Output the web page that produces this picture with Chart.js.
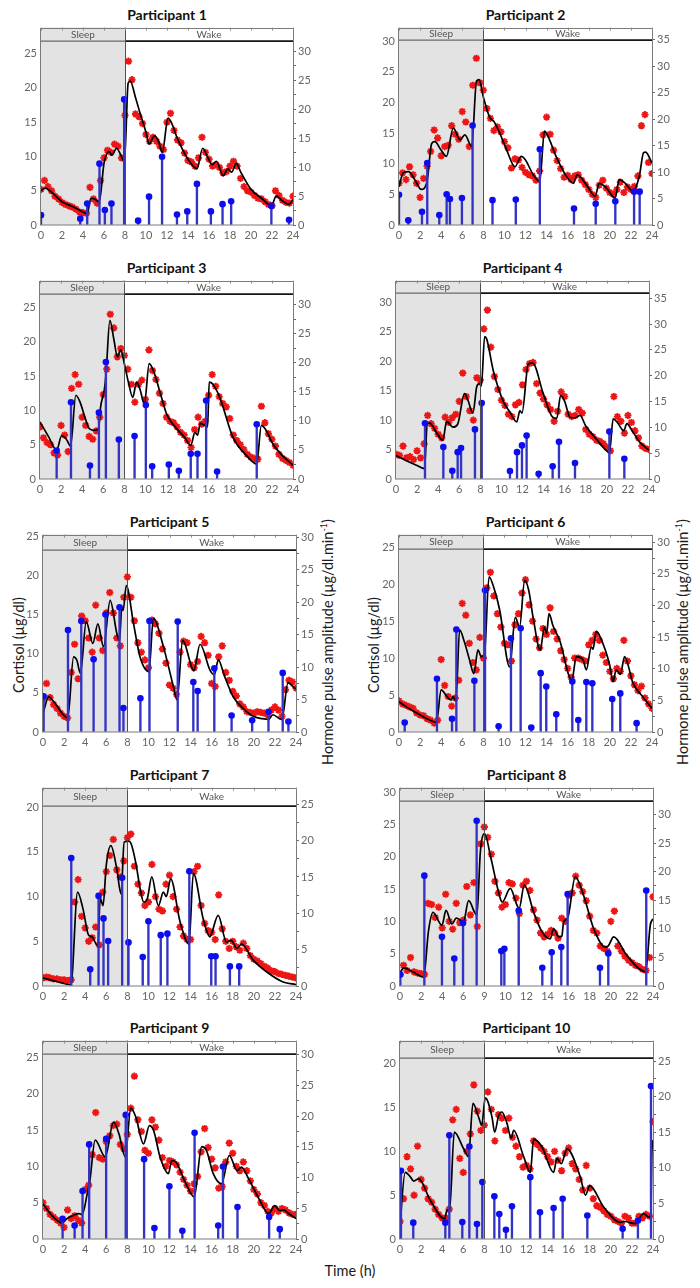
<!DOCTYPE html>
<html><head><meta charset="utf-8">
<script src="https://cdn.jsdelivr.net/npm/chart.js@4.4.1/dist/chart.umd.min.js"></script>
<style>
body{margin:0;width:700px;height:1288px;background:#fff;position:relative;overflow:hidden;font-family:Lato,"Open Sans","DejaVu Sans",sans-serif;color:#1a1a1a}
.ptitle{position:absolute;width:240px;text-align:center;font-weight:bold;font-size:14px;line-height:16px;color:#111}
.vlabel{position:absolute;width:320px;height:20px;line-height:20px;text-align:center;font-size:14.5px;transform:rotate(-90deg);white-space:nowrap}
.vlabel sup{font-size:9px;line-height:0}
.hlabel{position:absolute;width:200px;text-align:center;font-size:14.5px;line-height:18px}
canvas{position:absolute}
</style></head>
<body>
<div class="vlabel" style="left:-141px;top:635px">Cortisol (µg/dl)</div>
<div class="vlabel" style="left:214px;top:635px">Cortisol (µg/dl)</div>
<div class="vlabel" style="left:168px;top:632px">Hormone pulse amplitude (µg/dl.min<sup>-1</sup>)</div>
<div class="vlabel" style="left:523px;top:632px">Hormone pulse amplitude (µg/dl.min<sup>-1</sup>)</div>
<div class="hlabel" style="left:250px;top:1262px">Time (h)</div>
<script>
// ---------- data ----------
const SAMPLE_STEP_H = 1 / 3;          // cortisol sampled every 20 min, from 0 h to 24 h
const SLEEP_START = 0, SLEEP_END = 8;
const X_TICK_VALUES = [0,2,4,6,8,10,12,14,16,18,20,22,24];
const X_TICK_LABELS = ['0','2','4','6','8','10','12','14','16','18','20','22','24'];
const X_TICK_LABELS_P8 = ['0','2','4','6','9','10','12','14','16','18','20','22','24'];

const P1_CORT = [5.2,6.5,5.6,5.0,4.2,3.8,3.3,3.0,2.8,2.6,2.3,1.9,1.8,1.7,5.5,3.8,3.2,6.5,9.8,10.9,10.6,11.8,11.5,9.8,16.0,23.9,21.2,16.2,15.8,14.8,13.2,12.2,12.8,12.2,11.5,11.0,15.0,16.3,13.8,12.4,12.0,10.5,9.4,9.2,8.6,9.8,12.8,10.6,9.6,8.6,8.8,8.4,7.6,7.8,8.6,9.3,8.6,6.8,5.6,5.0,4.8,4.3,3.9,3.8,3.4,3.0,2.8,5.0,4.3,3.6,3.3,3.2,4.2];
const P1_FIT = [[0,5.0],[0.4,5.4],[1,4.8],[2,3.4],[3,2.7],[4,1.9],[4.4,1.6],[4.75,3.9],[5.1,3.8],[5.55,3.4],[6.0,9.0],[6.5,10.7],[6.75,10.2],[7.2,11.2],[7.6,10.2],[7.95,9.2],[8.3,20.7],[8.5,21.0],[9.0,18.6],[9.4,16.5],[10.0,13.5],[10.3,11.8],[10.8,13.0],[11.2,12.2],[11.55,10.6],[12.1,15.6],[12.4,15.0],[13.0,12.6],[14.0,9.6],[14.85,8.2],[15.4,11.2],[15.9,9.8],[16.3,8.8],[16.7,9.3],[17.35,7.2],[17.8,8.2],[18.15,7.7],[18.6,9.0],[19.0,7.8],[20.0,5.2],[21.0,3.9],[21.95,2.8],[22.4,4.2],[23.0,3.5],[23.6,3.0],[24,3.7]];
const P1_PULSES = [[0,1.7],[3.74,1.1],[4.4,3.7],[5.57,10.6],[6.08,2.6],[6.71,3.7],[7.92,21.7],[9.25,0.75],[10.29,4.9],[11.53,11.8],[12.95,1.8],[13.93,2.35],[14.85,7.1],[16.18,2.35],[17.29,3.6],[18.11,4.1],[21.94,3.3],[23.62,0.9]];

const P2_CORT = [6.8,8.5,7.4,9.5,8.2,6.8,4.5,7.6,9.6,12.0,15.5,14.2,11.3,12.8,13.0,16.2,14.8,14.0,18.5,16.8,12.8,22.8,27.2,23.2,22.0,19.0,17.4,15.4,16.0,15.2,13.6,12.6,9.3,10.8,10.6,9.4,8.6,8.2,8.0,7.3,8.8,14.7,17.6,14.8,12.2,10.5,9.2,7.8,8.1,7.4,8.0,8.2,7.3,6.6,5.8,5.0,4.5,6.5,7.3,6.0,5.3,5.0,5.8,7.0,5.3,6.2,5.8,6.3,8.0,16.2,18.0,10.2,8.4];
const P2_FIT = [[0,6.3],[0.4,8.5],[0.9,8.7],[1.5,7.4],[2.1,5.8],[2.65,7.0],[3.1,13.3],[3.4,13.6],[4.0,12.2],[4.5,11.2],[5.15,15.8],[5.8,13.9],[6.25,14.7],[6.9,12.8],[7.35,23.5],[7.6,23.7],[8.0,20.9],[8.6,17.6],[9.0,16.9],[9.6,14.8],[10.2,12.3],[11.0,9.5],[11.6,11.2],[12.0,10.6],[12.7,8.3],[13.35,7.1],[13.8,15.3],[14.2,14.2],[14.9,11.2],[15.9,7.9],[16.55,6.8],[16.9,8.2],[17.8,6.5],[18.6,4.7],[19.0,6.8],[19.6,6.2],[20.5,4.4],[20.9,7.4],[21.4,6.9],[22.2,5.5],[22.8,8.0],[23.2,11.8],[23.4,11.9],[24,10.1]];
const P2_PULSES = [[0,5.7],[0.88,0.9],[2.18,2.5],[2.68,11.7],[3.82,1.9],[4.52,5.8],[4.83,4.9],[5.97,5.1],[6.98,18.8],[8.87,4.7],[11.08,4.8],[13.36,14.3],[16.6,3.1],[18.66,4.0],[20.52,4.5],[22.3,6.3],[22.83,6.3]];

const P3_CORT = [7.6,6.0,5.3,5.0,3.8,3.5,7.8,6.4,4.0,13.2,15.2,13.8,9.0,7.8,6.2,5.8,7.0,9.0,12.3,16.0,24.0,22.0,17.8,19.0,18.0,16.0,13.8,11.2,13.8,14.4,11.6,18.8,15.8,14.5,12.5,11.0,9.0,8.4,8.2,7.6,6.8,6.4,5.6,4.6,7.2,9.0,8.0,8.4,12.2,15.2,13.5,12.0,11.0,10.5,8.8,6.4,5.6,5.0,4.3,3.6,3.2,3.0,2.9,10.6,8.2,6.6,5.8,4.8,3.6,3.0,2.7,2.4,2.0];
const P3_FIT = [[0,8.3],[0.8,6.2],[1.58,4.2],[2.05,6.3],[2.5,5.8],[2.9,4.8],[3.4,12.2],[3.8,11.2],[4.3,8.8],[4.7,7.3],[5.2,7.1],[5.55,7.3],[5.75,10.5],[6.1,13.0],[6.25,15.0],[6.63,23.1],[7.0,20.4],[7.35,17.8],[7.65,18.8],[8.0,16.8],[8.4,14.0],[8.8,11.9],[9.16,14.1],[9.5,13.0],[9.9,10.9],[10.36,16.8],[10.8,15.6],[11.5,12.0],[12.0,9.5],[12.6,8.0],[13.7,6.1],[14.3,4.9],[14.7,6.8],[14.95,6.4],[15.2,8.1],[15.65,7.8],[15.9,7.6],[16.05,14.1],[16.4,13.8],[17.05,11.9],[18.3,6.1],[19.6,3.4],[20.55,2.2],[21.0,7.8],[21.4,7.2],[22.1,5.1],[23.0,3.4],[24,2.0]];
const P3_PULSES = [[1.58,4.9],[2.94,13.2],[4.74,2.3],[5.59,11.4],[6.25,20.1],[7.48,6.8],[8.97,7.4],[10.04,12.7],[10.64,2.2],[12.22,2.5],[13.17,1.4],[14.3,4.35],[14.94,4.35],[15.76,13.5],[16.8,1.3],[20.56,9.4]];

const P4_CORT = [4.2,4.0,5.6,3.6,3.8,3.3,4.8,3.6,6.0,10.8,9.4,8.6,7.6,7.0,10.5,9.6,10.4,11.0,13.2,18.0,14.0,11.6,10.0,17.2,16.8,25.5,28.7,22.4,17.4,15.2,13.4,12.5,11.0,10.6,12.6,13.0,16.0,18.6,19.6,19.8,16.2,14.6,13.6,12.6,11.8,9.8,11.5,14.8,14.0,11.0,10.6,10.8,11.8,11.2,8.4,7.6,7.2,6.6,6.4,6.0,5.4,4.8,14.0,10.6,9.8,7.8,10.8,9.6,8.2,7.0,5.6,5.2,5.0];
const P4_FIT = [[0,4.0],[1.0,3.1],[2.0,2.3],[2.7,1.75],[2.97,9.4],[3.2,9.5],[3.8,8.0],[4.45,6.6],[4.8,9.8],[5.4,8.8],[5.85,9.3],[6.5,14.5],[6.8,13.5],[7.3,11.2],[7.65,15.6],[7.9,16.2],[8.1,15.8],[8.41,24.2],[8.6,23.8],[9.23,18.4],[10.2,13.1],[10.8,11.4],[11.45,9.7],[11.76,11.6],[11.95,11.2],[12.55,19.5],[12.96,19.7],[13.97,14.5],[14.86,10.5],[15.25,10.3],[15.62,14.2],[16.0,13.2],[16.5,10.5],[17.0,10.4],[17.45,10.8],[18.0,9.0],[19.0,6.8],[20.1,4.6],[20.25,4.5],[20.6,10.2],[21.0,9.6],[21.6,8.2],[21.9,9.4],[22.4,8.2],[23.1,6.3],[24,4.9]];
const P4_PULSES = [[2.75,10.8],[4.49,6.2],[5.34,1.6],[5.85,5.2],[6.17,6.0],[7.49,9.6],[8.13,14.7],[10.81,1.55],[11.48,5.2],[11.95,6.5],[12.39,8.4],[13.53,1.0],[14.86,2.45],[15.46,7.2],[16.98,3.1],[20.24,9.2],[21.66,3.9]];

const P5_CORT = [4.2,6.2,4.4,3.5,3.0,2.4,2.0,1.8,7.6,11.2,6.8,14.8,14.2,12.0,10.2,16.2,12.0,10.4,15.2,17.8,15.2,12.0,11.0,17.2,19.8,17.2,14.2,11.4,10.2,9.2,8.2,14.3,13.8,12.6,10.6,8.8,6.0,5.6,4.8,10.2,11.6,11.4,8.6,8.2,9.0,12.2,11.4,9.8,6.2,5.8,9.6,11.0,7.6,6.6,5.2,4.6,3.6,3.2,2.6,2.5,2.4,2.6,2.5,2.4,2.2,2.8,3.2,2.8,2.0,5.4,6.6,6.4,5.6];
const P5_FIT = [[0,2.4],[0.05,2.6],[0.54,4.5],[1.0,3.9],[2.35,1.8],[2.9,9.6],[3.2,9.2],[3.55,7.5],[4.1,14.1],[4.73,11.3],[5.2,13.8],[5.74,10.9],[6.37,16.8],[7.0,12.6],[7.25,11.6],[7.48,16.0],[7.6,15.5],[7.9,18.7],[8.58,13.9],[9.2,9.6],[10.05,7.7],[10.47,14.5],[11.42,10.9],[12.37,5.8],[12.72,4.1],[13.25,11.7],[14.1,8.3],[14.3,7.8],[14.9,11.2],[15.84,7.9],[16.25,7.3],[16.63,9.2],[17.2,7.2],[18.04,4.5],[19.0,3.0],[19.94,2.0],[20.8,1.7],[21.4,1.6],[21.8,2.2],[22.65,1.6],[23.25,6.3],[23.7,5.8],[24,5.5]];
const P5_PULSES = [[0.06,5.5],[2.37,15.7],[3.63,17.1],[4.8,11.2],[5.93,18.1],[7.26,19.2],[7.63,3.7],[9.24,5.2],[10.1,17.1],[12.78,17.0],[14.26,7.7],[14.67,6.3],[16.25,9.8],[17.89,2.55],[19.84,1.8],[21.39,3.1],[22.74,9.1],[23.28,1.6]];

const P6_CORT = [4.2,3.8,3.6,3.4,3.2,2.6,2.3,2.2,1.8,1.6,1.2,1.6,9.8,6.3,4.8,3.5,4.6,7.0,17.4,15.8,12.0,9.4,8.4,12.8,10.0,19.5,21.6,18.4,16.0,14.2,12.0,11.8,9.6,14.5,16.0,18.8,20.6,17.2,15.0,12.6,11.4,14.0,13.2,16.8,13.6,12.6,11.0,9.8,8.6,7.4,10.0,10.0,9.8,9.6,11.8,12.4,13.2,12.4,10.4,9.4,8.2,7.2,8.6,8.2,12.4,9.6,7.6,6.4,5.6,6.2,4.6,3.8,3.2];
const P6_FIT = [[0,4.1],[0.6,3.5],[1.64,2.6],[2.5,1.9],[3.55,1.3],[4.0,5.7],[4.5,4.9],[4.95,4.3],[5.12,4.8],[5.4,4.2],[5.75,13.8],[6.2,12.2],[6.7,9.7],[7.1,7.9],[7.49,11.1],[7.8,10.2],[8.1,10.4],[8.54,21.0],[9.0,19.5],[9.55,16.5],[10.5,8.8],[11.03,15.5],[11.44,14.2],[11.92,20.5],[12.3,19.2],[12.71,15.6],[13.4,11.1],[13.8,14.2],[14.0,13.3],[14.23,16.0],[14.6,14.4],[15.24,12.4],[16.4,7.0],[16.82,10.2],[17.45,9.8],[17.77,8.4],[18.24,11.5],[18.4,11.2],[18.72,13.6],[19.1,12.8],[19.98,9.1],[20.3,6.8],[20.6,8.4],[21.0,7.8],[21.4,10.2],[22.2,6.6],[23.1,4.8],[24,3.2]];
const P6_PULSES = [[0.54,1.5],[3.6,8.4],[5.03,2.1],[5.44,16.2],[7.15,8.1],[8.16,22.4],[9.45,0.9],[10.62,14.8],[11.54,16.4],[12.55,0.7],[13.44,9.3],[13.97,7.2],[14.92,2.8],[16.44,8.0],[17.01,1.9],[17.77,7.9],[18.34,7.7],[20.23,5.2],[20.99,6.1],[22.54,1.4]];

const P7_CORT = [0.9,1.0,0.9,0.8,0.8,0.7,0.7,0.6,0.7,9.4,11.9,7.8,6.5,5.0,5.4,6.6,4.6,10.5,12.8,14.6,16.4,13.0,12.2,14.0,16.6,17.0,13.4,11.4,10.4,9.0,9.4,13.6,10.0,8.6,8.4,11.4,12.4,10.0,8.6,6.6,5.6,5.2,5.2,12.8,13.4,9.0,7.0,6.2,6.0,5.2,10.2,6.4,5.0,4.2,5.0,4.4,4.0,4.8,4.2,3.4,3.0,2.8,2.5,2.2,2.0,1.7,1.6,1.4,1.3,1.2,1.1,1.0,0.9];
const P7_FIT = [[0,0.9],[1.3,0.5],[2.65,0.15],[3.28,10.5],[3.8,8.6],[4.32,5.7],[4.64,5.5],[5.2,4.5],[5.43,9.8],[5.7,9.0],[6.0,13.5],[6.44,15.7],[7.0,13.1],[7.4,10.3],[7.7,16.1],[8.1,16.2],[8.33,16.0],[8.8,13.8],[9.21,10.9],[9.55,9.4],[9.9,9.8],[10.32,12.2],[10.95,9.0],[11.42,10.5],[11.7,10.0],[12.11,12.0],[13.0,7.2],[13.85,4.7],[14.26,12.6],[15.2,7.5],[15.84,5.5],[16.0,5.9],[16.62,7.9],[17.41,4.9],[17.85,5.1],[18.4,4.2],[18.83,4.7],[19.94,2.9],[21.2,1.6],[22.78,0.45],[24,0.15]];
const P7_PULSES = [[2.68,17.6],[4.48,2.3],[5.27,12.4],[5.74,9.3],[6.18,6.2],[7.51,14.9],[8.11,6.0],[9.46,4.0],[10.0,8.9],[11.17,7.0],[11.8,7.2],[13.88,15.8],[15.96,4.1],[16.37,4.1],[17.73,2.7],[18.61,2.7]];

const P8_CORT = [1.8,3.2,2.4,4.4,2.2,2.0,1.9,1.8,12.8,12.6,10.6,12.2,9.0,14.2,10.0,8.8,12.8,9.8,10.2,15.4,11.0,16.0,9.2,22.0,24.6,23.0,20.4,16.2,14.4,12.2,12.6,16.0,15.8,13.6,11.2,15.6,16.2,14.8,11.8,10.2,8.2,7.6,8.0,8.6,8.2,7.4,10.5,10.0,14.0,14.4,17.0,15.6,14.6,13.2,10.8,8.6,8.2,6.2,5.8,5.4,10.0,11.6,6.2,5.4,4.6,4.0,3.6,3.2,3.0,2.6,2.4,4.4,13.8];
const P8_FIT = [[0,2.0],[0.35,2.8],[1.2,2.2],[2.25,1.4],[2.7,8.5],[3.13,11.4],[3.98,9.4],[4.36,11.7],[4.93,9.6],[5.34,10.5],[5.72,10.2],[6.0,9.8],[6.51,13.2],[7.14,11.2],[7.3,11.0],[7.62,20.7],[8.03,23.6],[8.57,20.2],[9.52,13.5],[9.7,13.0],[10.46,15.1],[11.1,12.5],[11.3,12.0],[11.79,15.6],[12.68,11.4],[13.47,8.4],[14.26,7.3],[14.57,8.9],[15.05,7.6],[15.35,7.7],[15.52,9.9],[15.9,10.5],[16.63,16.9],[17.42,14.0],[18.37,8.9],[19.48,6.0],[19.76,6.2],[20.27,7.6],[21.53,4.7],[23.3,2.2],[23.74,9.4],[24,10.4]];
const P8_PULSES = [[0.03,2.0],[2.31,19.3],[3.98,8.6],[5.15,4.8],[5.98,11.0],[7.27,28.9],[9.61,6.1],[9.9,6.5],[11.26,13.2],[13.5,3.2],[14.39,5.9],[15.3,6.8],[15.9,16.1],[18.97,3.2],[19.76,5.7],[23.36,16.7]];

const P9_CORT = [5.0,4.2,3.4,3.0,2.6,2.2,1.6,4.0,2.8,3.2,2.6,2.2,6.8,7.4,11.6,17.4,11.2,11.0,13.4,14.2,15.6,15.8,13.0,12.4,14.4,18.0,22.4,16.4,14.8,12.2,11.8,16.4,15.4,13.6,11.2,10.0,10.8,10.6,10.2,9.2,8.2,7.4,6.6,7.6,8.6,12.0,15.2,12.6,11.0,9.8,7.0,7.2,10.6,13.2,11.8,10.0,9.4,10.6,9.4,8.0,6.8,6.2,5.0,4.6,3.8,3.6,4.2,3.8,4.2,4.0,3.6,3.4,3.4];
const P9_FIT = [[0,4.8],[1.0,3.0],[1.8,2.2],[2.27,2.8],[2.9,3.25],[3.38,3.5],[3.7,3.35],[4.32,7.1],[4.4,7.5],[4.95,13.6],[5.9,11.3],[6.69,16.1],[7.2,14.5],[7.8,11.3],[8.33,18.0],[8.8,16.8],[9.53,13.1],[10.1,15.6],[10.5,14.9],[11.1,11.3],[11.9,9.0],[12.21,10.8],[12.6,10.6],[13.5,7.8],[14.35,5.8],[15.05,12.7],[15.5,12.2],[16.15,9.0],[16.94,7.6],[17.67,11.5],[18.42,9.4],[18.83,9.9],[19.5,8.3],[20.57,5.3],[21.4,3.5],[21.99,4.6],[22.46,3.9],[22.8,4.0],[23.4,3.4],[24,2.8]];
const P9_PULSES = [[1.86,3.3],[3.0,2.2],[3.75,7.8],[4.38,15.4],[5.99,16.3],[7.85,20.2],[9.59,13.0],[10.57,1.8],[11.99,8.6],[13.22,1.35],[14.38,17.3],[16.62,2.2],[17.07,11.8],[18.45,5.2],[21.45,3.6],[22.46,1.6]];

const P10_CORT = [2.0,4.6,9.4,8.0,5.0,10.6,6.8,5.8,4.6,4.2,3.4,2.8,2.4,2.4,3.4,13.6,14.8,9.2,7.6,10.0,12.0,17.6,14.6,12.4,13.0,16.8,14.8,11.2,14.2,13.8,12.4,13.8,11.6,10.6,9.4,8.2,8.4,8.0,11.2,10.8,10.4,10.0,9.4,8.8,10.0,9.0,7.8,9.8,10.4,8.6,8.0,6.8,5.6,8.4,5.8,4.6,3.8,3.6,3.2,2.8,2.6,2.2,2.0,1.8,2.6,2.4,1.8,1.8,2.6,2.4,2.8,2.6,13.4];
const P10_FIT = [[0,0.6],[0.1,3.0],[0.5,7.6],[0.98,7.1],[1.3,6.6],[1.77,6.9],[2.88,4.4],[4.24,2.3],[4.46,3.3],[4.7,3.2],[5.15,12.2],[6.04,10.3],[6.5,9.4],[6.92,15.5],[7.46,13.9],[7.75,13.0],[8.09,16.1],[8.73,13.9],[8.98,12.2],[9.36,14.1],[9.67,14.5],[10.15,13.2],[10.55,11.5],[10.78,12.4],[11.73,9.4],[12.36,7.6],[12.68,11.4],[13.47,10.5],[14.57,7.6],[14.89,9.2],[15.3,8.6],[15.84,10.3],[17.1,7.1],[17.6,5.0],[17.99,6.1],[19.32,3.65],[20.9,1.9],[21.3,2.0],[22.32,1.75],[22.6,2.2],[23.11,2.9],[23.6,2.5],[23.8,2.8],[23.9,10.1],[24,11.3]];
const P10_PULSES = [[0.09,9.6],[1.26,2.3],[4.3,2.3],[4.68,14.6],[5.91,2.4],[6.58,13.0],[7.3,2.1],[7.81,8.0],[8.95,6.0],[9.42,3.5],[10.05,1.3],[10.62,4.6],[12.36,8.7],[13.28,3.75],[14.57,4.35],[15.43,5.65],[17.77,3.3],[21.12,1.45],[22.57,2.6],[23.81,21.5]];

const TICKS_25 = [0,5,10,15,20,25];
const TICKS_30 = [0,5,10,15,20,25,30];
const TICKS_35 = [0,5,10,15,20,25,30,35];
const TICKS_20 = [0,5,10,15,20];

// panels: data + axis ranges
const PANELS = [
  {title:'Participant 1', cort:P1_CORT, fit:P1_FIT, pulses:P1_PULSES, leftMax:28.8, rightMax:34.1, leftTicks:TICKS_25, rightTicks:TICKS_30, xLabels:X_TICK_LABELS},
  {title:'Participant 2', cort:P2_CORT, fit:P2_FIT, pulses:P2_PULSES, leftMax:32.2, rightMax:37.3, leftTicks:TICKS_30, rightTicks:TICKS_35, xLabels:X_TICK_LABELS},
  {title:'Participant 3', cort:P3_CORT, fit:P3_FIT, pulses:P3_PULSES, leftMax:28.9, rightMax:34.1, leftTicks:TICKS_25, rightTicks:TICKS_30, xLabels:X_TICK_LABELS},
  {title:'Participant 4', cort:P4_CORT, fit:P4_FIT, pulses:P4_PULSES, leftMax:33.7, rightMax:38.4, leftTicks:TICKS_30, rightTicks:TICKS_35, xLabels:X_TICK_LABELS},
  {title:'Participant 5', cort:P5_CORT, fit:P5_FIT, pulses:P5_PULSES, leftMax:25.2, rightMax:30.4, leftTicks:TICKS_25, rightTicks:TICKS_30, xLabels:X_TICK_LABELS},
  {title:'Participant 6', cort:P6_CORT, fit:P6_FIT, pulses:P6_PULSES, leftMax:26.7, rightMax:31.2, leftTicks:TICKS_25, rightTicks:TICKS_30, xLabels:X_TICK_LABELS},
  {title:'Participant 7', cort:P7_CORT, fit:P7_FIT, pulses:P7_PULSES, leftMax:22.2, rightMax:27.3, leftTicks:TICKS_20, rightTicks:TICKS_25, xLabels:X_TICK_LABELS},
  {title:'Participant 8', cort:P8_CORT, fit:P8_FIT, pulses:P8_PULSES, leftMax:30.7, rightMax:34.7, leftTicks:TICKS_30, rightTicks:TICKS_30, xLabels:X_TICK_LABELS_P8},
  {title:'Participant 9', cort:P9_CORT, fit:P9_FIT, pulses:P9_PULSES, leftMax:27.3, rightMax:32.3, leftTicks:TICKS_25, rightTicks:TICKS_30, xLabels:X_TICK_LABELS},
  {title:'Participant 10', cort:P10_CORT, fit:P10_FIT, pulses:P10_PULSES, leftMax:22.65, rightMax:27.9, leftTicks:TICKS_20, rightTicks:TICKS_25, xLabels:X_TICK_LABELS}
];

// ---------- layout (plot rectangles in page pixels) ----------
const LAYOUT = [
  {l:41, t:27, r:293, b:225, band:13},
  {l:399, t:27, r:652, b:225, band:12},
  {l:40, t:280, r:293, b:479, band:13},
  {l:396, t:280, r:649, b:479, band:12},
  {l:43, t:534, r:296, b:732, band:15},
  {l:399, t:534, r:652, b:732, band:14},
  {l:43, t:787, r:296, b:986, band:18},
  {l:400, t:787, r:653, b:986, band:13},
  {l:43, t:1040, r:296, b:1239, band:13},
  {l:400, t:1040, r:653, b:1239, band:17}
];

Chart.defaults.font.family = 'Lato, "Open Sans", "DejaVu Sans", sans-serif';

const sleepWakePlugin = {
  id: 'sleepWake',
  beforeDatasetsDraw(chart) {
    const {ctx, chartArea: a, scales: {x}} = chart;
    const s0 = x.getPixelForValue(SLEEP_START), s1 = x.getPixelForValue(SLEEP_END);
    ctx.save();
    ctx.fillStyle = '#e3e3e3';
    ctx.fillRect(s0, a.top, s1 - s0, a.bottom - a.top);
    ctx.restore();
  },
  afterDatasetsDraw(chart, args, opts) {
    const {ctx, chartArea: a, scales: {x}} = chart;
    const s0 = x.getPixelForValue(SLEEP_START), s1 = x.getPixelForValue(SLEEP_END);
    const band = opts.band;
    ctx.save();
    ctx.fillStyle = '#e3e3e3';
    ctx.fillRect(s0, a.top, s1 - s0, band);
    ctx.fillStyle = '#ffffff';
    ctx.fillRect(s1, a.top, a.right - s1, band);
    // band bottom line
    const yb = a.top + band + 0.5;
    ctx.lineWidth = 1.3; ctx.strokeStyle = '#6a6a6a';
    ctx.beginPath(); ctx.moveTo(s0, yb); ctx.lineTo(s1, yb); ctx.stroke();
    ctx.lineWidth = 1.6; ctx.strokeStyle = '#151515';
    ctx.beginPath(); ctx.moveTo(s1, yb); ctx.lineTo(a.right, yb); ctx.stroke();
    // sleep / wake boundary
    ctx.lineWidth = 1; ctx.strokeStyle = '#505050';
    ctx.beginPath(); ctx.moveTo(Math.round(s1) + 0.5, a.top); ctx.lineTo(Math.round(s1) + 0.5, a.bottom); ctx.stroke();
    // frame
    ctx.strokeStyle = '#7a7a7a'; ctx.lineWidth = 1;
    ctx.strokeRect(Math.round(a.left) - 0.5, Math.round(a.top) + 0.5, Math.round(a.right - a.left) + 1, Math.round(a.bottom - a.top) - 0.5);
    // top tick marks
    ctx.strokeStyle = '#8a8a8a';
    X_TICK_VALUES.forEach(v => {
      const px = Math.round(x.getPixelForValue(v)) + 0.5;
      ctx.beginPath(); ctx.moveTo(px, a.top); ctx.lineTo(px, a.top + 3); ctx.stroke();
    });
    // labels
    ctx.fillStyle = '#555'; ctx.font = '10px Lato, "Open Sans", sans-serif';
    ctx.textAlign = 'center'; ctx.textBaseline = 'middle';
    ctx.fillText('Sleep', x.getPixelForValue((SLEEP_START + SLEEP_END) / 2), a.top + band / 2 + 0.5);
    ctx.fillText('Wake', x.getPixelForValue((SLEEP_END + 24) / 2), a.top + band / 2 + 0.5);
    ctx.restore();
  }
};

const PAD_L = 34, PAD_R = 34, PAD_T = 10, AX_H = 24;

PANELS.forEach((p, i) => {
  const L = LAYOUT[i];
  const w = (L.r - L.l) + PAD_L + PAD_R;
  const h = (L.b - L.t) + PAD_T + AX_H;
  const title = document.createElement('div');
  title.className = 'ptitle';
  title.textContent = p.title;
  title.style.left = ((L.l + L.r) / 2 - 120) + 'px';
  title.style.top = (L.t - 20) + 'px';
  document.body.appendChild(title);

  const canvas = document.createElement('canvas');
  canvas.width = w; canvas.height = h;
  canvas.style.left = (L.l - PAD_L) + 'px';
  canvas.style.top = (L.t - PAD_T) + 'px';
  canvas.style.width = w + 'px'; canvas.style.height = h + 'px';
  document.body.appendChild(canvas);

  const rightAll = [];
  p.rightTicks.forEach((v, k) => { rightAll.push(v); if (k < p.rightTicks.length - 1) rightAll.push((v + p.rightTicks[k + 1]) / 2); });

  new Chart(canvas, {
    type: 'scatter',
    data: {
      datasets: [
        { type: 'scatter', data: p.cort.map((v, k) => ({x: k * SAMPLE_STEP_H, y: v})), yAxisID: 'y',
          pointStyle: 'star', pointRadius: 3.6, borderColor: '#ee1515', backgroundColor: '#ee1515', pointBorderWidth: 1.9, order: 4 },
        { type: 'line', data: p.fit.map(([x, y]) => ({x, y})), yAxisID: 'y', borderColor: '#000', borderWidth: 1.7,
          pointRadius: 0, cubicInterpolationMode: 'monotone', fill: false, order: 3 },
        { type: 'bar', data: p.pulses.map(([x, y]) => ({x, y})), yAxisID: 'y2', backgroundColor: '#3434c4',
          barThickness: 1.7, order: 2 },
        { type: 'scatter', data: p.pulses.map(([x, y]) => ({x, y})), yAxisID: 'y2', pointRadius: 3.3,
          backgroundColor: '#0c0cee', borderColor: '#0c0cee', pointBorderWidth: 0, order: 1 }
      ]
    },
    plugins: [sleepWakePlugin],
    options: {
      responsive: false, animation: false, devicePixelRatio: 1,
      layout: { padding: { top: PAD_T, left: 0, right: 0, bottom: 0 } },
      plugins: { legend: { display: false }, tooltip: { enabled: false }, sleepWake: { band: L.band } },
      scales: {
        x: {
          type: 'linear', min: 0, max: 24, offset: false,
          grid: { display: false, drawTicks: false, offset: false }, border: { display: false },
          ticks: { color: '#666', font: { size: 11 }, padding: 4, maxRotation: 0, autoSkip: false,
                   callback: (v) => { const k = X_TICK_VALUES.indexOf(v); return k >= 0 ? p.xLabels[k] : ''; } },
          afterBuildTicks: (s) => { s.ticks = X_TICK_VALUES.map(v => ({value: v})); },
          afterFit: (s) => { s.height = AX_H; }
        },
        y: {
          position: 'left', min: 0, max: p.leftMax,
          grid: { display: false, drawTicks: false }, border: { display: false },
          ticks: { color: '#666', font: { size: 11 }, padding: 4 },
          afterBuildTicks: (s) => { s.ticks = p.leftTicks.map(v => ({value: v})); },
          afterFit: (s) => { s.width = PAD_L; }
        },
        y2: {
          position: 'right', min: 0, max: p.rightMax,
          grid: { display: true, drawOnChartArea: false, drawTicks: true, tickLength: 3, color: '#666' }, border: { display: false },
          ticks: { color: '#666', font: { size: 11 }, padding: 2,
                   callback: (v) => p.rightTicks.includes(v) ? String(v) : '' },
          afterBuildTicks: (s) => { s.ticks = rightAll.map(v => ({value: v})); },
          afterFit: (s) => { s.width = PAD_R; }
        }
      }
    }
  });
});
</script>
</body></html>
